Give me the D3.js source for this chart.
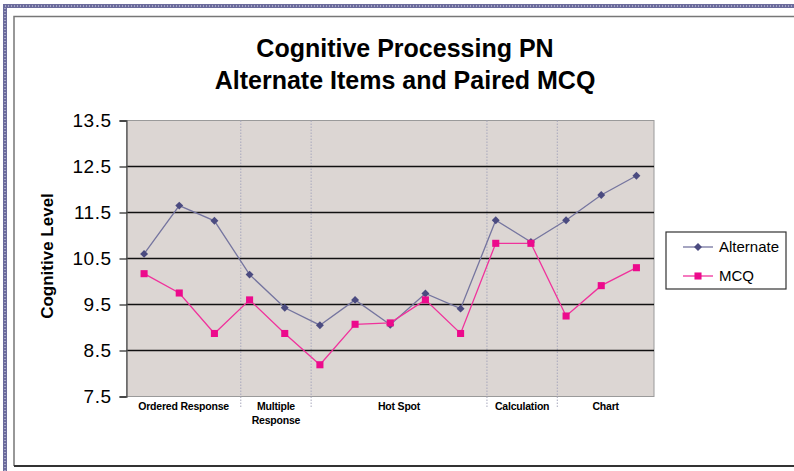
<!DOCTYPE html>
<html>
<head>
<meta charset="utf-8">
<script src="https://cdn.jsdelivr.net/npm/d3@7/dist/d3.min.js"></script>
<style>
  body { margin: 0; background: #fff; }
  svg { display: block; font-family: "Liberation Sans", Arial, sans-serif; }
</style>
</head>
<body>
<div id="chart"></div>
<script>
// items along the x axis, one per point
var items = ["OR1","OR2","OR3","MR1","MR2","HS1","HS2","HS3","HS4","HS5","CA1","CA2","CH1","CH2","CH3"];
// item groups shown under the axis, with how many items each covers
var groupNames = [["Ordered Response"], ["Multiple", "Response"], ["Hot Spot"], ["Calculation"], ["Chart"]];
var groupSizes = [3, 2, 5, 2, 3];

var alternate = [10.60, 11.65, 11.32, 10.15, 9.43, 9.05, 9.60, 9.06, 9.74, 9.41, 11.33, 10.86, 11.33, 11.88, 12.30];
var mcq = [10.17, 9.75, 8.87, 9.60, 8.87, 8.19, 9.07, 9.10, 9.60, 8.87, 10.83, 10.83, 9.25, 9.91, 10.30];

var yTicks = [7.5, 8.5, 9.5, 10.5, 11.5, 12.5, 13.5];
var seriesNames = ["Alternate", "MCQ"];

var cfg = {
  w: 794,
  h: 471,
  left: 126.5,
  right: 654,
  top: 120.5,
  bottom: 396.5,
  plotFill: "#dcd6d3",
  altLine: "#75759f",
  altMark: "#4b4b80",
  mcqLine: "#f0329c",
  mcqMark: "#ec0a8c"
};

var svg = d3.select("#chart").append("svg")
  .attr("width", cfg.w)
  .attr("height", cfg.h);

//Outer frame: textured blue stripe and the inner grey box
svg.append("path")
  .attr("d", "M5,471 V6 H794")
  .attr("fill", "none")
  .attr("stroke", "#6c6c9c")
  .attr("stroke-width", 4);
svg.append("path")
  .attr("d", "M5,471 V6 H794")
  .attr("fill", "none")
  .attr("stroke", "#b8b8d4")
  .attr("stroke-width", 1.5)
  .attr("stroke-dasharray", "1,2");
svg.append("path")
  .attr("d", "M794,16.5 H14 V466")
  .attr("fill", "none")
  .attr("stroke", "#777")
  .attr("stroke-width", 1.5);
svg.append("line")
  .attr("x1", 14).attr("x2", 794)
  .attr("y1", 466).attr("y2", 466)
  .attr("stroke", "#333")
  .attr("stroke-width", 2);

var x = d3.scaleBand()
  .domain(items)
  .range([cfg.left, cfg.right]);

var y = d3.scaleLinear()
  .domain([7.5, 13.5])
  .range([cfg.bottom, cfg.top]);

//Plot area
svg.append("rect")
  .attr("x", cfg.left)
  .attr("y", cfg.top)
  .attr("width", cfg.right - cfg.left)
  .attr("height", cfg.bottom - cfg.top)
  .attr("fill", cfg.plotFill)
  .attr("stroke", "#9a9a9a")
  .attr("stroke-width", 1);

//Group dividers (dotted), a bit right of the item boundaries as in the original
var bounds = [];
var acc = 0;
groupSizes.forEach(function(n){ bounds.push(acc); acc += n; });
bounds.push(acc);
var step = x.step();
var divX = bounds.map(function(b, i){
  if (i == 0) return cfg.left;
  if (i == bounds.length - 1) return cfg.right;
  return cfg.left + b * step + step * 0.25;
});

svg.selectAll(".divider")
  .data(divX.slice(1, -1))
  .enter()
  .append("line")
  .attr("class", "divider")
  .attr("x1", function(d){ return d; })
  .attr("x2", function(d){ return d; })
  .attr("y1", cfg.top)
  .attr("y2", cfg.bottom + 12)
  .attr("stroke", "#a8a8bc")
  .attr("stroke-width", 1)
  .attr("stroke-dasharray", "1.5,1.5");

//Horizontal gridlines
svg.selectAll(".grid")
  .data(yTicks.slice(1, -1))
  .enter()
  .append("line")
  .attr("class", "grid")
  .attr("x1", cfg.left)
  .attr("x2", cfg.right)
  .attr("y1", function(d){ return y(d); })
  .attr("y2", function(d){ return y(d); })
  .attr("stroke", "#111")
  .attr("stroke-width", 1.3);

//Y axis
var yAxis = svg.append("g")
  .attr("transform", "translate(" + cfg.left + ",0)")
  .call(d3.axisLeft(y).tickValues(yTicks).tickFormat(d3.format(".1f")).tickSize(7).tickPadding(8));
yAxis.select(".domain").attr("stroke", "#555").attr("stroke-width", 1.3);
yAxis.selectAll(".tick line").attr("stroke", "#222").attr("stroke-width", 1.2);
yAxis.selectAll(".tick text")
  .style("font-family", "Liberation Sans, Arial, sans-serif")
  .style("font-size", "19px")
  .style("letter-spacing", "0.5px")
  .attr("fill", "#000");

svg.append("text")
  .attr("transform", "translate(53,256) rotate(-90)")
  .attr("text-anchor", "middle")
  .style("font-size", "17px")
  .style("font-weight", "bold")
  .text("Cognitive Level");

//Group labels under the axis
var groupLabels = svg.selectAll(".glabel")
  .data(groupNames)
  .enter()
  .append("text")
  .attr("class", "glabel")
  .attr("text-anchor", "middle")
  .attr("x", function(d, i){ return (divX[i] + divX[i + 1]) / 2; })
  .attr("y", 410)
  .style("font-family", "Liberation Sans Narrow, Arial Narrow, sans-serif")
  .style("font-weight", "bold")
  .style("font-size", "10.5px")
  .style("letter-spacing", "-0.2px");
groupLabels.selectAll("tspan")
  .data(function(d){ return d; })
  .enter()
  .append("tspan")
  .attr("x", function(){ return d3.select(this.parentNode).attr("x"); })
  .attr("dy", function(d, i){ return i == 0 ? 0 : 14; })
  .text(function(d){ return d; });

//Series lines
var line = d3.line()
  .x(function(d, i){ return x(items[i]) + x.bandwidth() / 2; })
  .y(function(d){ return y(d); });

svg.append("path")
  .datum(alternate)
  .attr("d", line)
  .attr("fill", "none")
  .attr("stroke", cfg.altLine)
  .attr("stroke-width", 1.3);

svg.append("path")
  .datum(mcq)
  .attr("d", line)
  .attr("fill", "none")
  .attr("stroke", cfg.mcqLine)
  .attr("stroke-width", 1.3);

var diamond = d3.symbol().type(d3.symbolDiamond2).size(40);
var square = d3.symbol().type(d3.symbolSquare).size(50);

svg.selectAll(".alt")
  .data(alternate)
  .enter()
  .append("path")
  .attr("class", "alt")
  .attr("d", diamond)
  .attr("transform", function(d, i){ return "translate(" + (x(items[i]) + x.bandwidth() / 2) + "," + y(d) + ")"; })
  .attr("fill", cfg.altMark);

svg.selectAll(".mcq")
  .data(mcq)
  .enter()
  .append("path")
  .attr("class", "mcq")
  .attr("d", square)
  .attr("transform", function(d, i){ return "translate(" + (x(items[i]) + x.bandwidth() / 2) + "," + y(d) + ")"; })
  .attr("fill", cfg.mcqMark);

//Title
svg.append("text")
  .attr("x", 405)
  .attr("text-anchor", "middle")
  .style("font-size", "25px")
  .style("font-weight", "bold")
  .selectAll("tspan")
  .data(["Cognitive Processing PN", "Alternate Items and Paired MCQ"])
  .enter()
  .append("tspan")
  .attr("x", 405)
  .attr("y", function(d, i){ return 57 + i * 32; })
  .text(function(d){ return d; });

//Legend
var lg = svg.append("g").attr("transform", "translate(666,232)");
lg.append("rect")
  .attr("width", 120)
  .attr("height", 57)
  .attr("fill", "#fff")
  .attr("stroke", "#333")
  .attr("stroke-width", 1.2);

var rows = lg.selectAll(".row")
  .data(seriesNames)
  .enter()
  .append("g")
  .attr("transform", function(d, i){ return "translate(0," + (15 + i * 29) + ")"; });
rows.append("line")
  .attr("x1", 17).attr("x2", 47)
  .attr("stroke", function(d, i){ return i == 0 ? cfg.altLine : cfg.mcqLine; })
  .attr("stroke-width", 1.3);
rows.append("path")
  .attr("d", function(d, i){ return i == 0 ? diamond() : square(); })
  .attr("transform", "translate(32,0)")
  .attr("fill", function(d, i){ return i == 0 ? cfg.altMark : cfg.mcqMark; });
rows.append("text")
  .attr("x", 53)
  .attr("dy", "0.35em")
  .style("font-size", "15px")
  .text(function(d){ return d; });
</script>
</body>
</html>
